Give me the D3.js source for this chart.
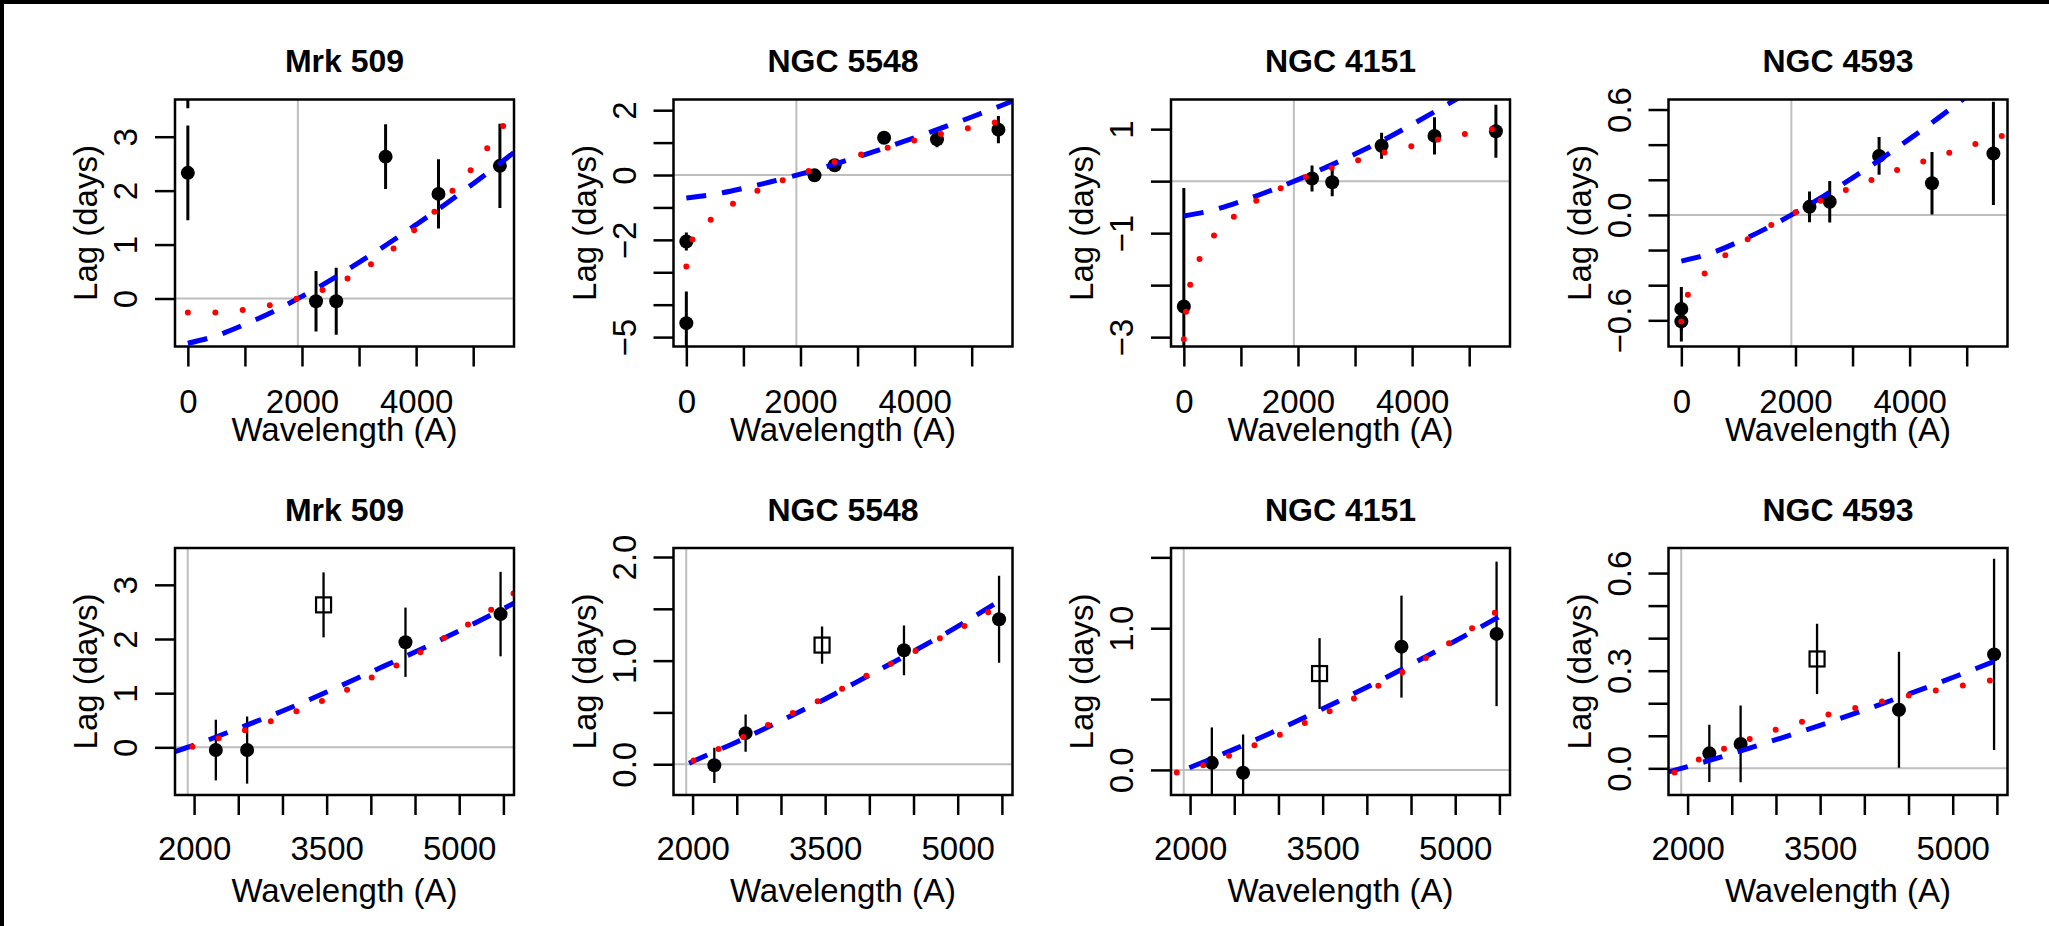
<!DOCTYPE html>
<html lang="en">
<head>
<meta charset="UTF-8" />
<title>Lag spectra</title>
<script src="https://d3js.org/d3.v7.min.js"></script>
<style>
  html, body { margin: 0; padding: 0; background: #fff; }
  svg { display: block; }
  text { font-family: 'Liberation Sans', Arial, Helvetica, sans-serif; fill: #000; }
  text.title { font-size: 32px; font-weight: bold; }
  text.label { font-size: 33px; }
  .axis text { font-size: 33px; }
  .axis line { stroke: #000; stroke-width: 2.5; }
  .box { fill: none; stroke: #000; stroke-width: 2.5; }
  .ref { stroke: #bebebe; stroke-width: 2; }
  .err { stroke: #000; }
  .blue { fill: none; stroke: #0000ff; stroke-width: 5; stroke-dasharray: 20 16; }
  .red { fill: none; stroke: #ff0000; stroke-width: 6; stroke-dasharray: 0 27.5; stroke-linecap: round; }
</style>
</head>
<body>
<svg id="chart" width="2049" height="926"></svg>
<script>
// ---- data ----
const galaxies = ['Mrk 509', 'NGC 5548', 'NGC 4151', 'NGC 4593'];
const bandWave = [2246, 2600, 3465, 4392, 5468];   // UVM2, UVW1, U, B, V
const refWave = 1928;                               // UVW2, the lag reference
const xrayWave = 0;                                 // X-ray lags are put at 0 A

const lagMrk509 = [-0.05, -0.05, 2.63, 1.94, 2.46];
const errMrk509 = [0.56, 0.62, 0.60, 0.64, 0.78];
const lagN5548 = [-0.01, 0.30, 1.15, 1.10, 1.40];
const errN5548 = [0.17, 0.18, 0.18, 0.24, 0.42];
const lagN4151 = [0.05, -0.02, 0.68, 0.87, 0.96];
const errN4151 = [0.25, 0.27, 0.25, 0.36, 0.51];
const lagN4593 = [0.046, 0.075, 0.336, 0.18, 0.35];
const errN4593 = [0.088, 0.118, 0.108, 0.178, 0.294];

// X-ray lags [lag, err]
const xrayMrk509 = [[2.33, 0.88], [4.40, 0.87]];
const xrayN5548 = [[-2.05, 0.28], [-4.57, 0.98]];
const xrayN4151 = [[-2.41, 2.28]];
const xrayN4593 = [[-0.535, 0.125], [-0.606, 0.115]];

// model curves [wavelength, lag], top row (fit incl. X-ray)
const blueTopMrk509 = [[0,-0.83],[500,-0.69],[1000,-0.48],[1500,-0.24],[2000,0.04],[2500,0.34],[3000,0.67],[3500,1.01],[4000,1.37],[4500,1.74],[5000,2.13],[5500,2.53],[5715,2.71]];
const blueTopN5548 = [[0,-0.71],[500,-0.59],[1000,-0.41],[1500,-0.20],[2000,0.03],[2500,0.28],[3000,0.56],[3500,0.85],[4000,1.15],[4500,1.47],[5000,1.79],[5500,2.13],[5715,2.28]];
const blueTopN4151 = [[0,-0.67],[500,-0.56],[1000,-0.39],[1500,-0.19],[2000,0.03],[2500,0.27],[3000,0.52],[3500,0.79],[4000,1.09],[4500,1.40],[5000,1.72]];
const blueTopN4593 = [[0,-0.263],[500,-0.22],[1000,-0.153],[1500,-0.075],[2000,0.013],[2500,0.109],[3000,0.211],[3500,0.319],[4000,0.433],[4500,0.551],[5000,0.674],[5500,0.80],[5715,0.857]];

const redTopMrk509 = [[0,-0.26],[485,-0.26],[975,-0.21],[1460,-0.12],[1925,0],[2363,0.16],[2813,0.38],[3228,0.65],[3618,0.94],[3980,1.28],[4348,1.64],[4656,2.02],[4971,2.40],[5269,2.82],[5544,3.23]];
const redTopN5548 = [[0,-2.82],[99,-2.02],[432,-1.37],[829,-0.87],[1255,-0.48],[1704,-0.15],[2158,0.13],[2608,0.41],[3104,0.65],[3541,0.85],[4026,1.08],[4504,1.28],[4971,1.46],[5449,1.64]];
const redTopN4151 = [[0,-3.04],[42,-2.47],[117,-1.96],[292,-1.46],[555,-1.01],[917,-0.65],[1313,-0.35],[1750,-0.11],[2188,0.10],[2655,0.28],[3110,0.42],[3578,0.57],[4056,0.69],[4523,0.82],[5001,0.92],[5468,1.01]];
const redTopN4593 = [[0,-0.606],[116,-0.453],[420,-0.329],[788,-0.225],[1178,-0.135],[1604,-0.053],[2030,0.019],[2468,0.084],[2916,0.147],[3371,0.204],[3821,0.261],[4288,0.309],[4744,0.36],[5210,0.41],[5677,0.455]];

// model curves, bottom row (UV/optical only)
const blueBotMrk509 = [[1784,-0.08],[2000,0.04],[2500,0.35],[3000,0.67],[3500,1.02],[4000,1.39],[4500,1.76],[5000,2.15],[5500,2.56],[5620,2.66]];
const blueBotN5548 = [[1960,0.01],[2000,0.026],[2500,0.215],[3000,0.42],[3500,0.63],[4000,0.86],[4500,1.09],[5000,1.33],[5480,1.58]];
const blueBotN4151 = [[1992,0.015],[2500,0.147],[3000,0.285],[3500,0.431],[4000,0.584],[4500,0.744],[5000,0.91],[5538,1.095]];
const blueBotN4593 = [[1784,-0.011],[2000,0.005],[2500,0.045],[3000,0.088],[3500,0.132],[4000,0.179],[4500,0.228],[5000,0.279],[5500,0.332],[5620,0.345]];

const redBotMrk509 = [[1981,0.01],[2284,0.17],[2587,0.32],[2882,0.49],[3177,0.68],[3468,0.87],[3752,1.08],[4035,1.31],[4312,1.53],[4585,1.78],[4860,2.05],[5133,2.30],[5397,2.58],[5624,2.85]];
const redBotN5548 = [[2011,0.036],[2314,0.155],[2598,0.274],[2882,0.39],[3166,0.509],[3449,0.621],[3725,0.744],[4006,0.87],[4282,0.986],[4565,1.111],[4842,1.234],[5126,1.356],[5390,1.491]];
const redBotN4151 = [[1849,-0.019],[2159,0.035],[2443,0.101],[2738,0.177],[3029,0.252],[3313,0.335],[3597,0.419],[3873,0.511],[4149,0.6],[4429,0.699],[4694,0.8],[4963,0.907],[5224,1.013],[5488,1.126]];
const redBotN4593 = [[1852,-0.013],[2136,0.028],[2428,0.062],[2720,0.092],[3015,0.12],[3310,0.144],[3612,0.167],[3923,0.187],[4225,0.207],[4536,0.226],[4842,0.241],[5152,0.256],[5455,0.272]];

// axis limits and ticks
const xLimTop = [-225, 5715];
const xLimBottom = [1784, 5620];
const xTicksTop = [0, 1000, 2000, 3000, 4000, 5000];
const xLabelsTop = [0, 2000, 4000];
const xTicksBottom = [2000, 2500, 3000, 3500, 4000, 4500, 5000, 5500];
const xLabelsBottom = [2000, 3500, 5000];

const yLimTop = [[-0.89, 3.69], [-5.29, 2.33], [-3.18, 1.57], [-0.749, 0.657]];
const yTicksTop = [[0, 1, 2, 3], [-5, -4, -3, -2, -1, 0, 1, 2], [-3, -2, -1, 0, 1], [-0.6, -0.4, -0.2, 0, 0.2, 0.4, 0.6]];
const yLabelsTop = [[0, 1, 2, 3], [-5, -2, 0, 2], [-3, -1, 1], [-0.6, 0, 0.6]];
const yDecTop = [0, 0, 0, 1];

const yLimBottom = [[-0.88, 3.68], [-0.297, 2.087], [-0.177, 1.566], [-0.082, 0.677]];
const yTicksBottom = [[0, 1, 2, 3], [0, 0.5, 1, 1.5, 2], [0, 0.5, 1, 1.5], [0, 0.1, 0.2, 0.3, 0.4, 0.5, 0.6]];
const yLabelsBottom = [[0, 1, 2, 3], [0, 1, 2], [0, 1], [0, 0.3, 0.6]];
const yDecBottom = [0, 1, 1, 1];

// ---- layout ----
const colLeft = [175, 673.5, 1171, 1668.5];
const rowTop = [99.5, 548];
const boxW = 339, boxH = 247;

const lags = [lagMrk509, lagN5548, lagN4151, lagN4593];
const errs = [errMrk509, errN5548, errN4151, errN4593];
const xrays = [xrayMrk509, xrayN5548, xrayN4151, xrayN4593];
const blueTop = [blueTopMrk509, blueTopN5548, blueTopN4151, blueTopN4593];
const redTop = [redTopMrk509, redTopN5548, redTopN4151, redTopN4593];
const blueBot = [blueBotMrk509, blueBotN5548, blueBotN4151, blueBotN4593];
const redBot = [redBotMrk509, redBotN5548, redBotN4151, redBotN4593];

const svg = d3.select('#chart');
svg.append('rect').attr('width', 2049).attr('height', 926).attr('fill', '#fff');
// dark edge of the scanned page
svg.append('rect').attr('width', 2049).attr('height', 4).attr('fill', '#000');
svg.append('rect').attr('width', 4).attr('height', 926).attr('fill', '#000');

const fmt = (dec) => (v) => (v < 0 ? '\u2212' : '') + Math.abs(v).toFixed(dec);

function drawPanel(row, col) {
  const top = row === 0;
  const g = svg.append('g').attr('transform', `translate(${colLeft[col]},${rowTop[row]})`);

  const x = d3.scaleLinear().domain(top ? xLimTop : xLimBottom).range([0, boxW]);
  const y = d3.scaleLinear().domain(top ? yLimTop[col] : yLimBottom[col]).range([boxH, 0]);

  const clipId = `clip-${row}-${col}`;
  g.append('clipPath').attr('id', clipId)
    .append('rect').attr('width', boxW).attr('height', boxH);
  const plot = g.append('g').attr('clip-path', `url(#${clipId})`);

  // grey reference lines
  plot.append('line').attr('class', 'ref')
    .attr('x1', x(refWave)).attr('x2', x(refWave)).attr('y1', 0).attr('y2', boxH);
  plot.append('line').attr('class', 'ref')
    .attr('x1', 0).attr('x2', boxW).attr('y1', y(0)).attr('y2', y(0));

  let points = bandWave.map((w, i) => ({ w, lag: lags[col][i], err: errs[col][i], open: !top && i === 2 }));
  if (top) {
    points = xrays[col].map(([lag, err]) => ({ w: xrayWave, lag, err, open: false })).concat(points);
  }

  plot.selectAll('line.err').data(points).join('line')
    .attr('class', 'err')
    .attr('stroke-width', top ? 3 : 2.3)
    .attr('x1', d => x(d.w)).attr('x2', d => x(d.w))
    .attr('y1', d => y(d.lag - d.err)).attr('y2', d => y(d.lag + d.err));

  plot.selectAll('circle.pt').data(points.filter(d => !d.open)).join('circle')
    .attr('class', 'pt')
    .attr('cx', d => x(d.w)).attr('cy', d => y(d.lag)).attr('r', 7)
    .attr('fill', '#000');

  plot.selectAll('rect.sq').data(points.filter(d => d.open)).join('rect')
    .attr('class', 'sq')
    .attr('x', d => x(d.w) - 7.5).attr('y', d => y(d.lag) - 7.5)
    .attr('width', 15).attr('height', 15)
    .attr('fill', 'none').attr('stroke', '#000').attr('stroke-width', 2.2);

  const line = d3.line().x(d => x(d[0])).y(d => y(d[1])).curve(d3.curveMonotoneX);
  plot.append('path').attr('class', 'blue').attr('d', line(top ? blueTop[col] : blueBot[col]));
  plot.append('path').attr('class', 'red').attr('d', line(top ? redTop[col] : redBot[col]));

  g.append('rect').attr('class', 'box').attr('width', boxW).attr('height', boxH);

  // x axis
  const xTicks = top ? xTicksTop : xTicksBottom;
  const xLabels = top ? xLabelsTop : xLabelsBottom;
  const xa = g.append('g').attr('class', 'axis')
    .attr('transform', `translate(0,${boxH})`)
    .call(d3.axisBottom(x).tickValues(xTicks).tickSize(20)
      .tickFormat(v => xLabels.includes(v) ? String(v) : ''));
  xa.attr('font-size', null).attr('font-family', null);
  xa.select('.domain').remove();
  xa.selectAll('text').attr('y', top ? 66 : 65).attr('dy', null);

  // y axis, labels turned like R's default
  const yTicks = top ? yTicksTop[col] : yTicksBottom[col];
  const yLabels = top ? yLabelsTop[col] : yLabelsBottom[col];
  const f = fmt(top ? yDecTop[col] : yDecBottom[col]);
  const ya = g.append('g').attr('class', 'axis')
    .call(d3.axisLeft(y).tickValues(yTicks).tickSize(20)
      .tickFormat(v => yLabels.includes(v) ? f(v) : ''));
  ya.attr('font-size', null).attr('font-family', null);
  ya.select('.domain').remove();
  ya.selectAll('text')
    .attr('x', null).attr('dy', null)
    .attr('text-anchor', 'middle')
    .attr('transform', 'translate(-38,0) rotate(-90)');

  g.append('text').attr('class', 'title')
    .attr('x', boxW / 2).attr('y', -27.5)
    .attr('text-anchor', 'middle')
    .text(galaxies[col]);

  g.append('text').attr('class', 'label')
    .attr('x', boxW / 2).attr('y', boxH + (top ? 94 : 107))
    .attr('text-anchor', 'middle')
    .text('Wavelength (A)');

  g.append('text').attr('class', 'label')
    .attr('transform', `translate(-78,${boxH / 2}) rotate(-90)`)
    .attr('text-anchor', 'middle')
    .text('Lag (days)');
}

for (let row = 0; row < 2; row++) {
  for (let col = 0; col < 4; col++) drawPanel(row, col);
}
</script>
</body>
</html>
